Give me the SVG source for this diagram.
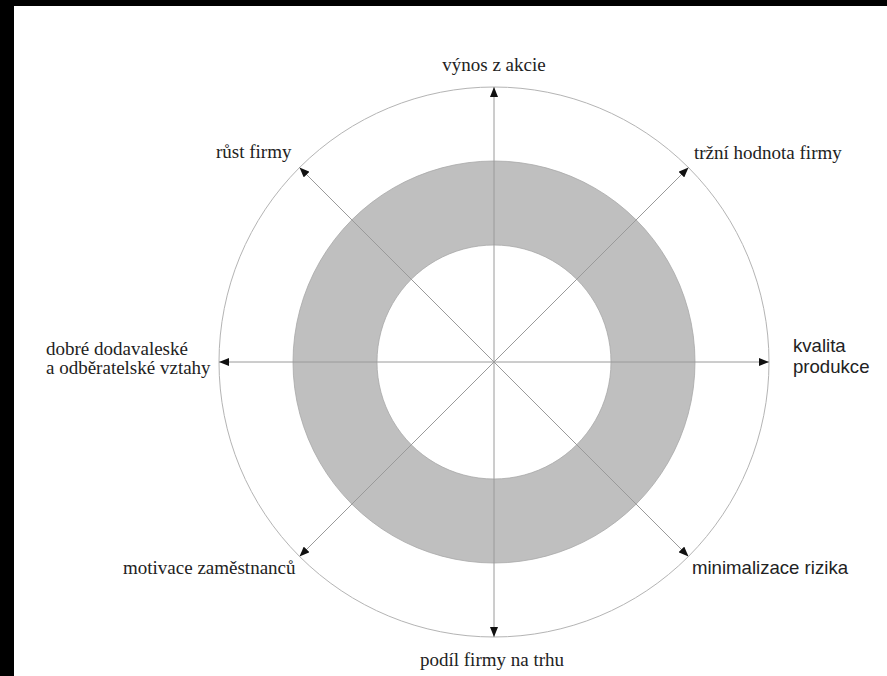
<svg xmlns="http://www.w3.org/2000/svg" width="887" height="676" viewBox="0 0 887 676">
<style>
.ax{stroke:#9a9a9a;stroke-width:1;fill:none}
</style>
<defs>
<marker id="ah" viewBox="0 0 10 8" refX="10" refY="4" markerWidth="10" markerHeight="8" markerUnits="userSpaceOnUse" orient="auto">
<path d="M0,0 L10,4 L0,8 Z" fill="#111"/>
</marker>
</defs>
<rect x="0" y="0" width="887" height="676" fill="#fff"/>
<rect x="0" y="0" width="887" height="6" fill="#000"/>
<rect x="0" y="0" width="14" height="676" fill="#000"/>
<g id="rings">
<circle cx="494" cy="362" r="275" fill="none" stroke="#b4b4b4" stroke-width="1"/>
<path d="M494,161 A201,201 0 1 0 494.01,161 Z M494,245 A117,117 0 1 1 493.99,245 Z" fill="#bfbfbf" fill-rule="evenodd" stroke="#a8a8a8" stroke-width="0.8"/>
</g>
<g id="connectors">
<line class="ax" x1="494" y1="362" x2="494" y2="87" marker-end="url(#ah)"/>
<line class="ax" x1="494" y1="362" x2="494" y2="637" marker-end="url(#ah)"/>
<line class="ax" x1="494" y1="362" x2="769" y2="362" marker-end="url(#ah)"/>
<line class="ax" x1="494" y1="362" x2="219" y2="362" marker-end="url(#ah)"/>
<line class="ax" x1="494" y1="362" x2="688.5" y2="167.5" marker-end="url(#ah)"/>
<line class="ax" x1="494" y1="362" x2="299.5" y2="167.5" marker-end="url(#ah)"/>
<line class="ax" x1="494" y1="362" x2="688.5" y2="556.5" marker-end="url(#ah)"/>
<line class="ax" x1="494" y1="362" x2="299.5" y2="556.5" marker-end="url(#ah)"/>
</g>
<g font-family="'Liberation Serif', 'Times New Roman', serif" font-size="19" fill="#222">
<g id="n-vynos"><text x="494" y="71" text-anchor="middle">výnos z akcie</text></g>
<g id="n-trzni"><text x="694" y="159">tržní hodnota firmy</text></g>
<g id="n-rust"><text x="216" y="158">růst firmy</text></g>
<g id="n-dobre"><text x="46" y="355">dobré dodavaleské</text><text x="46" y="374">a odběratelské vztahy</text></g>
<g id="n-motivace"><text x="123" y="574">motivace zaměstnanců</text></g>
<g id="n-podil"><text x="492" y="666" text-anchor="middle">podíl firmy na trhu</text></g>
</g>
<g font-family="'Liberation Sans', Arial, sans-serif" font-size="18.6" fill="#222">
<g id="n-kvalita"><text x="793" y="352">kvalita</text><text x="793" y="373">produkce</text></g>
<g id="n-minimalizace"><text x="692" y="574">minimalizace rizika</text></g>
</g>
</svg>
